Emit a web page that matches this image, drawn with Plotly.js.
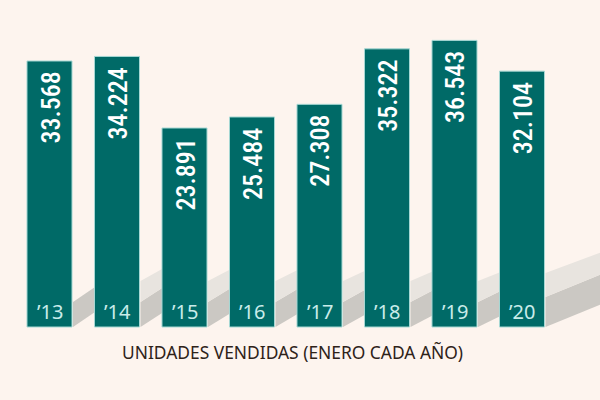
<!DOCTYPE html>
<html>
<head>
<meta charset="utf-8">
<script src="https://cdn.plot.ly/plotly-3.0.1.min.js"></script>
<style>html,body{margin:0;padding:0;background:#fdf4ee;}#chart{width:600px;height:400px;}</style>
</head>
<body>
<div id="chart"></div>
<script>
// ---- data ----
const years = ["’13", "’14", "’15", "’16", "’17", "’18", "’19", "’20"];
const units = [33568, 34224, 23891, 25484, 27308, 35322, 36543, 32104];
const caption = "UNIDADES VENDIDAS (ENERO CADA AÑO)";

// ---- styling ----
const BASE = -4850;            // visual baseline of the infographic bars
const BAR_W = 0.667;
const TEAL = "#006a67";
const BG = "#fdf4ee";
const xIdx = years.map((_, i) => i);
const fmt = v => Math.floor(v / 1000) + "." + String(v % 1000).padStart(3, "0");

const trace = {
  type: "bar",
  x: xIdx,
  y: units.map(v => v - BASE),
  base: BASE,
  width: BAR_W,
  marker: { color: TEAL, line: { color: "#a6d8d4", width: 1 } },
  hoverinfo: "skip"
};

// shadow blocks cast to the right of each bar (pixel paths anchored at bar's right edge)
const shapes = [];
units.forEach((v, i) => {
  const last = i === units.length - 1;
  const L = last ? 58 : 23;
  const s = last ? 0.4 : 0.65 - i * 0.03;
  const t = last ? 30 : 25;      // dark face thickness
  const lt = last ? 24 : 21;     // light face thickness
  const common = {
    type: "path", xref: "x", yref: "y",
    xsizemode: "pixel", ysizemode: "pixel",
    xanchor: i + BAR_W / 2, yanchor: BASE,
    layer: "below", line: { width: 0 }
  };
  const y1 = s * L;
  shapes.push(Object.assign({}, common, {
    path: `M1,0 L${L},${y1} L${L},${y1 + t} L1,${t} Z`,
    fillcolor: "#cbc8c3"
  }));
  if (i > 0) {
    shapes.push(Object.assign({}, common, {
      path: `M1,${t} L${L},${y1 + t} L${L},${y1 + t + lt - 2} L1,${t + lt} Z`,
      fillcolor: "#e8e4df"
    }));
  }
});

const annotations = [];
units.forEach((v, i) => {
  annotations.push({
    x: i, y: v, xref: "x", yref: "y",
    text: fmt(v), showarrow: false, textangle: -90,
    xanchor: "center", yanchor: "top", yshift: -9, xshift: 1,
    font: { family: "Roboto Condensed, DejaVu Sans Condensed, sans-serif", size: 26, weight: 500, color: "#ffffff" }
  });
  annotations.push({
    x: i, y: BASE, xref: "x", yref: "y",
    text: years[i], showarrow: false,
    xanchor: "center", yanchor: "bottom", yshift: 0,
    font: { family: "Noto Sans, sans-serif", size: 20, color: "#c9ecea" }
  });
});
annotations.push({
  x: 0.487, y: 0.12, xref: "paper", yref: "paper",
  text: caption, showarrow: false, xanchor: "center", yanchor: "middle",
  font: { family: "Noto Sans, sans-serif", size: 17.4, color: "#2e2219" }
});

const layout = {
  width: 600, height: 400,
  margin: { l: 0, r: 0, t: 0, b: 0 },
  paper_bgcolor: BG, plot_bgcolor: BG,
  showlegend: false,
  xaxis: { range: [-0.7333, 8.1556], visible: false, fixedrange: true },
  yaxis: { range: [-15393, 42377], visible: false, fixedrange: true },
  shapes: shapes,
  annotations: annotations
};

Plotly.newPlot("chart", [trace], layout, { displayModeBar: false, staticPlot: true });
</script>
</body>
</html>
